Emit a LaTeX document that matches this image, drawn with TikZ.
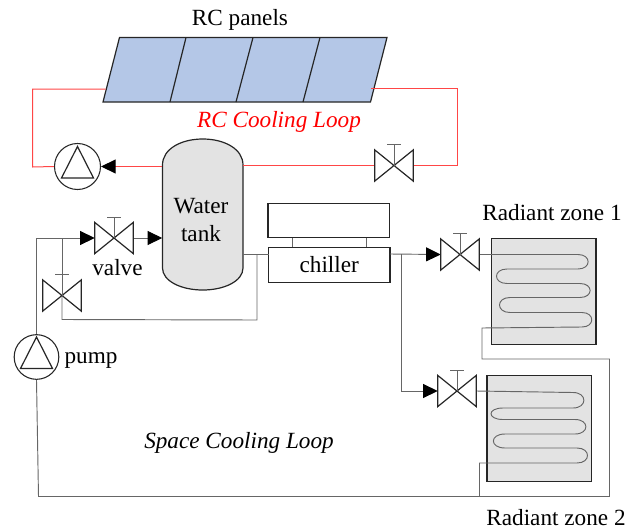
\documentclass[tikz,border=0pt]{standalone}
\usepackage{fontspec}
\setmainfont{Liberation Serif}
\usetikzlibrary{arrows.meta, calc}
\definecolor{panelblue}{RGB}{180,199,231}
\definecolor{loopred}{RGB}{255,70,70}

\begin{document}
\begin{tikzpicture}[
  x=0.75pt, y=-0.75pt,
  every node/.style = {font=\fontsize{17.4}{21}\selectfont},
  outline/.style = {draw=black!85, line width=0.9pt},
  block/.style = {outline, fill=white, inner sep=0pt},
  zone/.style = {outline, fill=black!11, inner sep=0pt, minimum width=78.5pt, minimum height=79.5pt},
  valvebox/.style = {inner sep=0pt, minimum width=28.5pt, minimum height=23pt},
  pumpbox/.style = {circle, draw=black!85, line width=0.8pt, fill=white, inner sep=0pt},
  pipe/.style = {draw=black!60, line width=0.7pt},
  redpipe/.style = {draw=loopred, line width=0.75pt},
  arrow/.style = {-{Triangle[length=11pt, width=10.5pt, black]}}
]
  \useasboundingbox (0,0) rectangle (626,529);

  % RC panels
  \draw[outline, fill=panelblue]
    (119.5,37.5) -- (387,37.5) -- (370.5,102) -- (103,102) -- cycle;
  \draw[outline] (186,37.5) -- (170,102);
  \draw[outline] (253,37.5) -- (236,102);
  \draw[outline] (320,37.5) -- (303,102);
  \coordinate (panelleft) at (105.5,89);
  \coordinate (panelright) at (371,88.5);
  \node (panels) at (240,20) {RC panels};
  \node[text=red] (rcloop) at (279,122) {\itshape RC Cooling Loop};

  % Water tank
  \draw[outline, fill=black!11] (162.5,165) .. controls (162.5,149) and (181,139) .. (202.75,139)
    .. controls (224.5,139) and (243,149) .. (243,165) -- (243,268)
    .. controls (243,281) and (224.5,290) .. (202.75,290)
    .. controls (181,290) and (162.5,281) .. (162.5,268) -- cycle;
  \node[inner sep=0pt, minimum width=60.4pt, minimum height=113pt] (tank) at (202.75,214.5) {};
  \node[align=center] (tanklabel) at (201,220) {Water\\tank};

  % Chiller
  \node[block, minimum width=91pt, minimum height=26pt] (chillertop) at (328.75,220.5) {};
  \node[block, minimum width=91pt, minimum height=26pt] (chiller) at (329.25,265) {chiller};
  \coordinate (stemleft) at ($(chillertop.south west)!0.2!(chillertop.south east)$);
  \coordinate (stemright) at ($(chillertop.south west)!0.81!(chillertop.south east)$);
  \draw[pipe] (stemleft) -- (stemleft |- chiller.north);
  \draw[pipe] (stemright) -- (stemright |- chiller.north);
  \coordinate (chillerin) at (268.5,254);
  \coordinate (chillerout) at (390,254);
  \coordinate (tankout) at (257,254);
  \coordinate (zonesplit) at (401.5,254);

  % Radiant zones
  \node[zone] (zone1) at (543.75,291.5) {};
  \node[zone] (zone2) at (539.25,428.75) {};
  \node (zone1label) at (552,213) {Radiant zone 1};
  \node (zone2label) at (556,518) {Radiant zone 2};

  % Valves and pumps
  \node[valvebox] (valvetank) at (114,238) {};
  \node[valvebox] (valvebypass) at (62,295.5) {};
  \node[valvebox] (valverc) at (394,165.5) {};
  \node[valvebox] (valvezone1) at (460,254.5) {};
  \node[valvebox] (valvezone2) at (457,391) {};
  \node[pumpbox, minimum size=34.5pt] (pumprc) at (77.5,166.5) {};
  \node[pumpbox, minimum size=33.5pt] (pump) at (36.5,357) {};

  % RC Cooling Loop
  \draw[redpipe] (panelleft) -- (32.5,89) -- (32.5,167) -- (pumprc.west);
  \draw[redpipe] (panelright) -- (457,88.5) -- (457,165.5) -- (valverc.east);
  \draw[redpipe] (valverc.west) -- (valverc.west -| tank.east);
  \draw[redpipe, arrow] (pumprc.east -| tank.west) -- (pumprc.east);

  % Space Cooling Loop
  \draw[pipe, arrow] (pump.north) |- (valvetank.west);
  \draw[pipe, arrow] (valvetank.east) -- (valvetank.east -| tank.west);
  \draw[pipe] (valvebypass.center) -- (valvebypass.center |- valvetank.west);
  \draw[pipe] (valvebypass.center) |- (62,319.5) -- (257,320) -- (tankout);
  \draw[pipe] (tank.east |- tankout) -- (chillerin);
  \draw[pipe, arrow] (chillerout) -- (valvezone1.west);
  \draw[pipe, arrow] (zonesplit) |- (valvezone2.west);

  % Coils
  \draw[pipe] (valvezone1.east) -- (578,254.5)
    .. controls (591.5,254.5) and (591.5,269) .. (578,269) -- (507,269)
    .. controls (493,269) and (493,283.5) .. (507,283.5) -- (580,283.5)
    .. controls (593.5,283.5) and (593.5,297.5) .. (580,297.5) -- (510,297.5)
    .. controls (496,297.5) and (496,312.5) .. (510,312.5) -- (582,312.5)
    .. controls (595,312.5) and (595,327) .. (582,327) -- (482,328)
    -- (482,359) -- (609.5,359) -- (609.5,496.5) -- (479.5,496.5);
  \draw[pipe] (valvezone2.east) -- (573,392.5)
    .. controls (587.5,392.5) and (587.5,408) .. (573,408) -- (503,408)
    .. controls (487,408) and (487,419.5) .. (503,419.5) -- (575,419.5)
    .. controls (589.5,419.5) and (589.5,434) .. (575,434) -- (505,434)
    .. controls (489.5,434) and (489.5,448) .. (505,448) -- (577,448)
    .. controls (591,448) and (591,463) .. (577,463) -- (479.5,463)
    -- (479.5,496.5) -- (38.5,496.5) -- (pump.south);

  \foreach \v in {valvetank, valvebypass, valverc, valvezone1, valvezone2} {
    \draw[outline] (\v.north west) -- (\v.south east) -- (\v.north east) -- (\v.south west) -- cycle;
    \draw[pipe] (\v.center) -- ++(0,-21) ++(-7,0) -- ++(14,0);
  }
  \foreach \p in {pumprc, pump}
    \draw[outline] ($(\p.center)+(0,-20)$) -- ($(\p.center)+(16,11.5)$) -- ($(\p.center)+(-16,11.5)$) -- cycle;

  \node (valvelabel) at (117.5,268) {valve};
  \node (pumplabel) at (91,360) {pump};
  \node (spaceloop) at (239,443) {\itshape Space Cooling Loop};
\end{tikzpicture}
\end{document}
